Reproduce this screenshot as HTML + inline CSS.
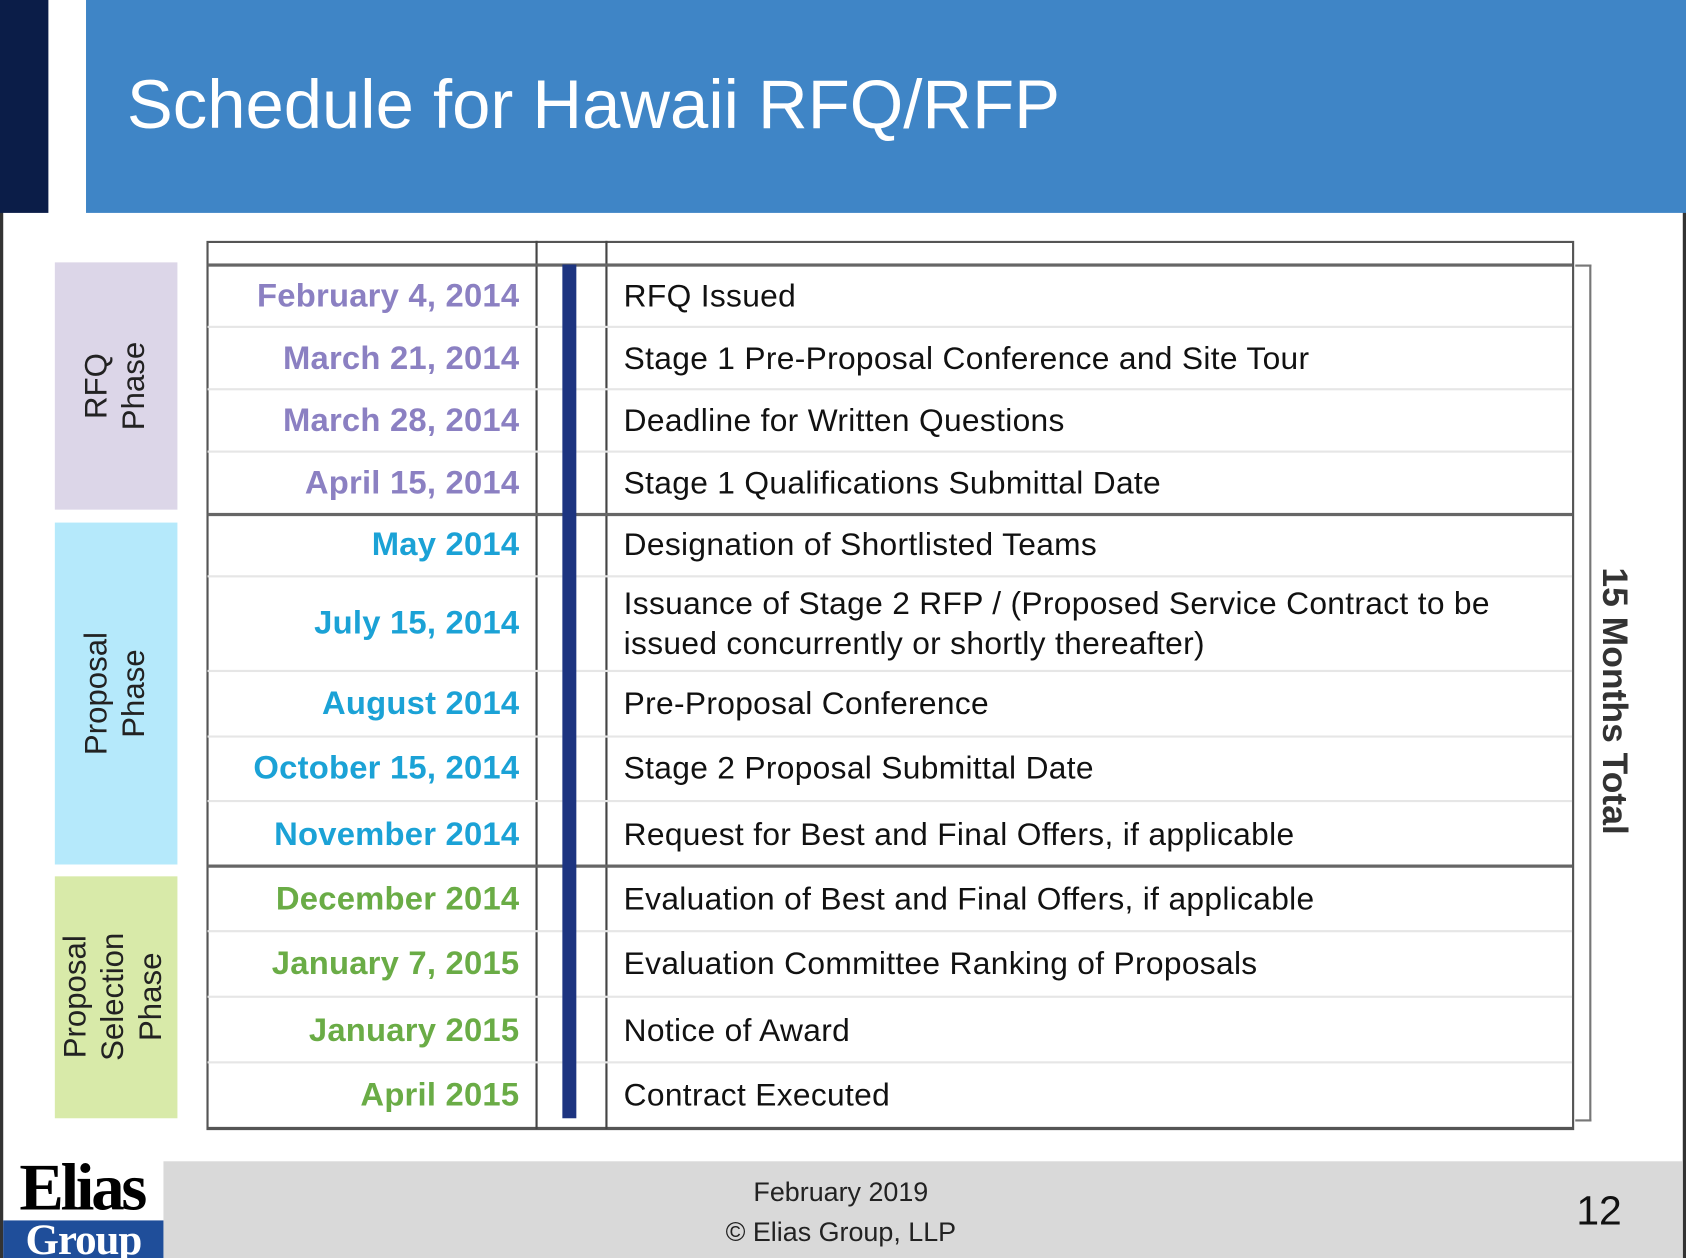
<!DOCTYPE html>
<html><head><meta charset="utf-8">
<style>
html,body{margin:0;padding:0;background:#fff;overflow:hidden}
body{width:1686px;height:1258px;position:relative}
#wrap{position:absolute;left:0;top:0;width:1568px;height:1170px;transform:scale(1.07526);transform-origin:0 0;font-family:"Liberation Sans",Arial,sans-serif}
.abs{position:absolute}
.date{position:absolute;left:163px;width:320px;text-align:right;font-weight:bold;font-size:30.5px;letter-spacing:0.2px;white-space:nowrap}
.desc{position:absolute;left:580px;width:880px;font-size:29.5px;color:#111;letter-spacing:0.3px;line-height:37px;white-space:nowrap}
.hl{position:absolute;left:193px;width:1269px;height:2px;background:#e6e6e6}
.hl.t{height:3px;background:#666}
.phase{position:absolute;left:51px;width:114px}
.plab{position:absolute;transform:translate(-50%,-50%) rotate(-90deg);white-space:nowrap;text-align:center;font-size:29px;color:#222;line-height:35px}
</style></head><body>
<div id="wrap">
  <div class="abs" style="left:0;top:0;width:3px;height:1170px;background:#333"></div>
  <div class="abs" style="left:1565px;top:0;width:3px;height:1170px;background:#333"></div>
  <div class="abs" style="left:0;top:0;width:45px;height:198px;background:#0b1d48"></div>
  <div class="abs" style="left:80px;top:0;width:1488px;height:198px;background:#3f85c6"></div>
  <div class="abs" style="left:118px;top:60px;font-size:64px;color:#fff;white-space:nowrap">Schedule for Hawaii RFQ/RFP</div>

  <div class="phase" style="top:244px;height:230px;background:#dcd6e8"></div>
  <div class="plab" style="left:108px;top:359px">RFQ<br>Phase</div>
  <div class="phase" style="top:486px;height:318px;background:#b5e9fb"></div>
  <div class="plab" style="left:108px;top:645px">Proposal<br>Phase</div>
  <div class="phase" style="top:815px;height:225px;background:#d8eaa9"></div>
  <div class="plab" style="left:106px;top:927px">Proposal<br>Selection<br>Phase</div>

  <div class="abs" style="left:192px;top:224px;width:1268px;height:822px;border:2px solid #555;border-bottom:3px solid #555"></div>
  <div class="abs" style="left:498px;top:224px;width:2px;height:826px;background:#444"></div>
  <div class="abs" style="left:563px;top:224px;width:2px;height:826px;background:#444"></div>
  <div class="hl t" style="top:245px"></div>
  <div class="hl" style="top:303px"></div>
  <div class="hl" style="top:361px"></div>
  <div class="hl" style="top:419px"></div>
  <div class="hl t" style="top:477px"></div>
  <div class="hl" style="top:535px"></div>
  <div class="hl" style="top:623px"></div>
  <div class="hl" style="top:684px"></div>
  <div class="hl" style="top:744px"></div>
  <div class="hl t" style="top:804px"></div>
  <div class="hl" style="top:865px"></div>
  <div class="hl" style="top:926px"></div>
  <div class="hl" style="top:987px"></div>
  <div class="abs" style="left:523px;top:246px;width:13px;height:794px;background:#1d3480"></div>

  <div class="date" style="top:258px;color:#8b80c2">February 4, 2014</div>
  <div class="date" style="top:316px;color:#8b80c2">March 21, 2014</div>
  <div class="date" style="top:374px;color:#8b80c2">March 28, 2014</div>
  <div class="date" style="top:432px;color:#8b80c2">April 15, 2014</div>
  <div class="date" style="top:489px;color:#1ba2d6">May 2014</div>
  <div class="date" style="top:562px;color:#1ba2d6">July 15, 2014</div>
  <div class="date" style="top:637px;color:#1ba2d6">August 2014</div>
  <div class="date" style="top:697px;color:#1ba2d6">October 15, 2014</div>
  <div class="date" style="top:759px;color:#1ba2d6">November 2014</div>
  <div class="date" style="top:819px;color:#6aac46">December 2014</div>
  <div class="date" style="top:879px;color:#6aac46">January 7, 2015</div>
  <div class="date" style="top:941px;color:#6aac46">January 2015</div>
  <div class="date" style="top:1001px;color:#6aac46">April 2015</div>

  <div class="desc" style="top:257px">RFQ Issued</div>
  <div class="desc" style="top:315px">Stage 1 Pre-Proposal Conference and Site Tour</div>
  <div class="desc" style="top:373px">Deadline for Written Questions</div>
  <div class="desc" style="top:431px">Stage 1 Qualifications Submittal Date</div>
  <div class="desc" style="top:488px">Designation of Shortlisted Teams</div>
  <div class="desc" style="top:543px">Issuance of Stage 2 RFP / (Proposed Service Contract to be<br>issued concurrently or shortly thereafter)</div>
  <div class="desc" style="top:636px">Pre-Proposal Conference</div>
  <div class="desc" style="top:696px">Stage 2 Proposal Submittal Date</div>
  <div class="desc" style="top:758px">Request for Best and Final Offers, if applicable</div>
  <div class="desc" style="top:818px">Evaluation of Best and Final Offers, if applicable</div>
  <div class="desc" style="top:878px">Evaluation Committee Ranking of Proposals</div>
  <div class="desc" style="top:940px">Notice of Award</div>
  <div class="desc" style="top:1000px">Contract Executed</div>

  <div class="abs" style="left:1465px;top:246px;width:13px;height:793px;border:2px solid #777;border-left:none"></div>
  <div class="abs" style="left:1502px;top:652px;transform:translate(-50%,-50%) rotate(90deg);white-space:nowrap;font-size:33px;font-weight:bold;color:#333">15 Months Total</div>

  <div class="abs" style="left:152px;top:1080px;width:1413px;height:90px;background:#d9d9d9"></div>
  <div class="abs" style="left:582px;width:400px;text-align:center;top:1095px;font-size:25px;color:#222">February 2019</div>
  <div class="abs" style="left:582px;width:400px;text-align:center;top:1132px;font-size:25px;color:#222">© Elias Group, LLP</div>
  <div class="abs" style="left:1466px;top:1106px;font-size:38px;color:#111">12</div>
  <div class="abs" style="left:0;top:1074px;width:152px;text-align:center;font-family:'Liberation Serif',serif;font-weight:bold;font-size:62px;color:#000;letter-spacing:-3px;line-height:62px">Elias</div>
  <div class="abs" style="left:3px;top:1135px;width:149px;height:35px;background:#1f4e9a;color:#fff;text-align:center;font-family:'Liberation Serif',serif;font-weight:bold;font-size:40px;line-height:35px;letter-spacing:-1px">Group</div>
</div>
</body></html>
